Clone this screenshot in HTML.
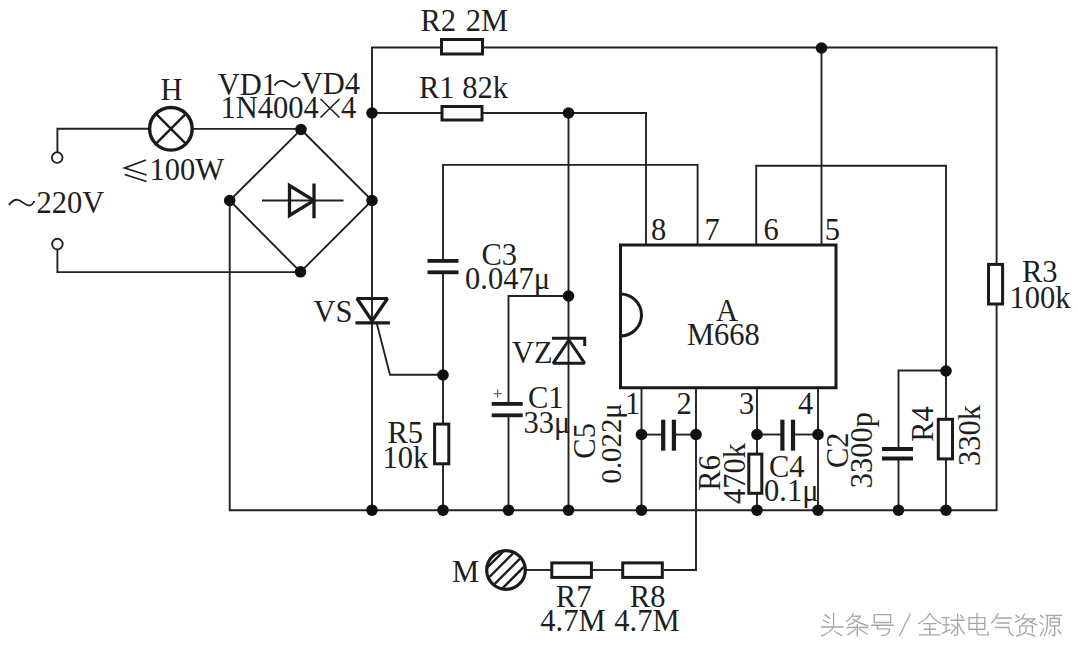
<!DOCTYPE html>
<html><head><meta charset="utf-8">
<style>
html,body{margin:0;padding:0;background:#fff;overflow:hidden;}
svg{display:block;}
text{font-family:"Liberation Serif",serif;font-size:30.5px;fill:#1e1e1e;}
</style></head>
<body>
<svg width="1078" height="646" viewBox="0 0 1078 646">
<rect width="1078" height="646" fill="#fff"/>

<g fill="none" stroke="#222" stroke-width="1.9">
  <path d="M57.4,152 V128.7 H149.5"/>
  <path d="M192,128.9 H301"/>
  <path d="M57.4,249.5 V272.1 H300.5"/>
  <path d="M301,129.5 L372,200.5 L300.5,272 L229.7,200.5 Z"/>
  <path d="M262,200.5 H343.5"/>
  <path d="M229.7,200.5 V510.2 H996.6 V47.5 H483"/>
  <path d="M441,47.5 H372 V510.2"/>
  <path d="M372,113 H441"/>
  <path d="M483,113 H646 V245"/>
  <path d="M443,261 V164.9 H697.6 V245"/>
  <path d="M443,272 V510.2"/>
  <path d="M376.8,323.5 L390,374.7 H443"/>
  <path d="M568.5,113 V510.2"/>
  <path d="M568.5,296 H508.5 V404"/>
  <path d="M508.5,415 V510.2"/>
  <path d="M756.2,245 V165.8 H946 V510.2"/>
  <path d="M821.5,245 V47.5"/>
  <path d="M946,370.5 H898.5 V449"/>
  <path d="M898.5,458 V510.2"/>
  <path d="M641.5,387.5 V510.2"/>
  <path d="M641.5,434.6 H662.5"/>
  <path d="M673,434.6 H696"/>
  <path d="M696,387.5 V570 H664"/>
  <path d="M757,387.5 V510.2"/>
  <path d="M757,434.5 H783"/>
  <path d="M793,434.5 H818"/>
  <path d="M818,387.5 V510.2"/>
  <path d="M525,570 H551"/>
  <path d="M592,570 H622"/>
  <circle cx="57.2" cy="157.6" r="5.3"/>
  <circle cx="57.4" cy="244.1" r="5.3"/>
</g>
<g fill="#fff" stroke="#1a1a1a" stroke-width="3">
  <circle cx="170.9" cy="128.8" r="21.3" stroke-width="3.4"/>
  <rect x="441.5" y="39.5" width="41" height="14.5"/>
  <rect x="442" y="106.5" width="40" height="13.5"/>
  <rect x="434.6" y="424.1" width="14.2" height="39.7"/>
  <rect x="988.5" y="264.4" width="14.1" height="39.6"/>
  <rect x="938.3" y="419.3" width="14.2" height="39.6"/>
  <rect x="748.8" y="454.1" width="13" height="39.2"/>
  <rect x="551.8" y="562.9" width="39.6" height="14.5"/>
  <rect x="622.7" y="562.9" width="39.6" height="14.5"/>
  <path d="M620.5,245 H836 V387.8 H620.5 Z" fill="none"/>
  <path d="M620.5,294 A21,21 0 0 1 620.5,336" fill="none"/>
  <circle cx="506" cy="570" r="19.3" stroke-width="3.2"/>
</g>
<g fill="none" stroke="#1a1a1a" stroke-width="3">
  <path d="M155.8,113.7 L186,143.9 M186,113.7 L155.8,143.9" stroke-width="2.4"/>
  <path d="M289.5,185.5 V215.5 L314,200.5 Z" stroke-width="3.3"/>
  <path d="M314,183.5 V218.3" stroke-width="3.3"/>
  <path d="M357,298.5 H387.5 L372.1,321 Z" stroke-miterlimit="1.5" stroke-width="3.2"/>
  <path d="M355.4,322.9 H389.9" stroke-width="3.2"/>
  <path d="M552,338.3 H584.7 V346"/>
  <path d="M568.9,340 L584.6,363.2 H553.2 Z" stroke-miterlimit="1.5"/>
  
</g>
<clipPath id="mc"><circle cx="506" cy="570" r="18"/></clipPath>
<g clip-path="url(#mc)" stroke="#1a1a1a" stroke-width="2.4" fill="none"><path d="M474.2,580.6 L516.6,538.2"/><path d="M480.0,586.4 L522.4,544.0"/><path d="M486.1,592.5 L528.5,550.1"/><path d="M492.2,598.6 L534.6,556.2"/></g>
<g fill="#1a1a1a"><rect x="427.5" y="259" width="31" height="3.8"/><rect x="427.5" y="270.4" width="31" height="3.8"/><rect x="491.7" y="402" width="31" height="3.8"/><rect x="491.7" y="413.4" width="31" height="3.8"/><rect x="882" y="447" width="31" height="4"/><rect x="882" y="456.5" width="31" height="4"/><rect x="661.1" y="419.7" width="4.2" height="31"/><rect x="671.8" y="419.7" width="4.2" height="31"/><rect x="780.3" y="419.7" width="4.2" height="31"/><rect x="790.9" y="419.7" width="4.2" height="31"/></g>
<g fill="#111"><circle cx="301" cy="129.5" r="5.8"/><circle cx="229.7" cy="200.5" r="5.8"/><circle cx="372" cy="200.5" r="5.8"/><circle cx="300.5" cy="271.8" r="5.8"/><circle cx="372" cy="113" r="5.8"/><circle cx="568.5" cy="113" r="5.8"/><circle cx="821.5" cy="48" r="5.8"/><circle cx="443" cy="375" r="5.8"/><circle cx="568.5" cy="296" r="5.8"/><circle cx="946" cy="371" r="5.8"/><circle cx="641.5" cy="434.5" r="5.8"/><circle cx="696" cy="434.5" r="5.8"/><circle cx="757" cy="434.5" r="5.8"/><circle cx="818" cy="434.5" r="5.8"/><circle cx="372" cy="510.2" r="5.8"/><circle cx="443" cy="510.2" r="5.8"/><circle cx="508.5" cy="510.2" r="5.8"/><circle cx="568.5" cy="510.2" r="5.8"/><circle cx="641.5" cy="510.2" r="5.8"/><circle cx="757" cy="510.2" r="5.8"/><circle cx="818" cy="510.2" r="5.8"/><circle cx="898.5" cy="510.2" r="5.8"/><circle cx="946" cy="510.2" r="5.8"/></g>
<g>
<text x="160.4" y="99.6">H</text>
<text x="149.4" y="179.5">100W</text>
<text x="36.5" y="212.5">220V</text>
<text x="217.8" y="94.6">VD1</text>
<text x="300.7" y="94.2">VD4</text>
<text x="220.5" y="118.3">1N4004</text>
<text x="340.9" y="118.3">4</text>
<text x="420.4" y="30.7">R2</text>
<text x="465.8" y="30.7">2M</text>
<text x="419" y="97.5">R1</text>
<text x="462.2" y="97.5">82k</text>
<text x="313.5" y="322">VS</text>
<text x="481.5" y="265.0">C3</text>
<text x="465" y="289.2">0.047μ</text>
<text x="512" y="362.8">VZ</text>
<text x="528" y="408">C1</text>
<text x="523.5" y="432.7">33μ</text>
<text x="387.5" y="443">R5</text>
<text x="382.5" y="467.8">10k</text>
<text x="651.1" y="239.8">8</text>
<text x="704.5" y="239.8">7</text>
<text x="763.5" y="239.8">6</text>
<text x="824.7" y="239.8">5</text>
<text x="727" y="320.7" text-anchor="middle">A</text>
<text x="687" y="344.8">M668</text>
<text x="625" y="414">1</text>
<text x="676.6" y="414">2</text>
<text x="738.9" y="414">3</text>
<text x="798.1" y="414">4</text>
<text x="769" y="477">C4</text>
<text x="764.1" y="500.8">0.1μ</text>
<text x="1022" y="282.4">R3</text>
<text x="1009.4" y="307.9">100k</text>
<text x="452" y="581.8">M</text>
<text x="555.8" y="606.6">R7</text>
<text x="540.3" y="631.3">4.7M</text>
<text x="629.8" y="606.6">R8</text>
<text x="614.3" y="631.3">4.7M</text>
<text transform="translate(595,458.7) rotate(-90)">C5</text>
<text transform="translate(620.5,483.5) rotate(-90)" style="font-size:28.8px">0.022μ</text>
<text transform="translate(720,490.7) rotate(-90)">R6</text>
<text transform="translate(744.5,503.9) rotate(-90)">470k</text>
<text transform="translate(847.5,468.1) rotate(-90)">C2</text>
<text transform="translate(871.7,488.3) rotate(-90)">3300p</text>
<text transform="translate(933,441.8) rotate(-90)">R4</text>
<text transform="translate(980,466) rotate(-90)">330k</text>
</g>
<g fill="none" stroke="#1e1e1e" stroke-width="1.8">
  <path d="M274.5,85.5 C277,82 280,80.5 283,81 C287,81.5 290,86.5 294,86.5 C296.5,86.5 298.5,84 300,81.5"/>
  <path d="M9,205 C11.5,201.5 14.5,199.5 17.5,199.8 C21.5,200.2 25,205.5 29,205.5 C31.5,205.5 33.2,203.5 34.3,201"/>
  <path d="M146,160 L124.7,168 L146.6,175 M124.7,174.5 L146.5,181.5"/>
  <path d="M320.5,99 L339.5,117.5 M339.5,99 L320.5,117.5" stroke-width="1.6"/>
</g>
<g fill="none" stroke="#8a8a8a" stroke-width="6" stroke-linecap="round" opacity="0.75"><path transform="translate(821.0,613.5) scale(0.225)" d="M17,5 L40,22 M10,30 L33,42 M56,0 V60 M1,60 H98 M56,60 Q40,85 3,100 M62,80 L92,98"/><path transform="translate(846.0,613.5) scale(0.225)" d="M33,0 Q20,25 2,35 M27,12 H65 Q45,40 12,50 M30,25 Q60,45 98,55 M5,62 H95 M50,48 V100 M42,70 L8,95 M60,70 L95,92"/><path transform="translate(871.5,613.5) scale(0.225)" d="M12,5 H85 V40 H12 Z M0,52 H98 M28,52 L25,68 H80 Q82,98 45,98"/><path transform="translate(898.5,613.5) scale(0.225)" d="M52,2 L5,98"/><path transform="translate(918.6,613.5) scale(0.225)" d="M50,0 Q35,25 0,45 M50,0 Q65,25 100,45 M22,45 H78 M50,45 V95 M25,70 H75 M5,95 H95"/><path transform="translate(942.3,613.5) scale(0.225)" d="M0,18 H32 M3,50 H30 M17,18 V78 M0,88 L35,72 M38,30 H98 M68,2 V92 Q66,100 52,96 M82,8 L92,20 M42,48 L58,60 M40,88 L62,62 M72,45 Q80,70 98,90"/><path transform="translate(966.8,613.5) scale(0.225)" d="M10,18 H80 V70 H10 Z M10,44 H80 M45,0 V82 Q46,95 62,95 H95 V82"/><path transform="translate(991.2,613.5) scale(0.225)" d="M30,0 Q20,25 2,42 M22,20 H90 M25,42 H80 M18,62 H78 Q78,88 98,98"/><path transform="translate(1014.9,613.5) scale(0.225)" d="M5,8 L18,18 M2,38 L22,28 M42,2 Q38,14 30,24 H88 Q78,34 68,38 M60,24 Q50,40 30,48 M62,34 Q78,44 98,50 M22,55 V85 M22,55 H78 V85 M50,62 V78 Q45,92 8,100 M55,88 L90,100"/><path transform="translate(1039.4,613.5) scale(0.225)" d="M5,8 L16,18 M2,40 L14,48 M5,98 L20,68 M30,8 H98 M35,8 V60 Q32,85 22,98 M48,22 H88 V55 H48 Z M48,38 H88 M68,12 L62,22 M68,58 V96 Q66,100 58,96 M52,72 L42,90 M82,72 L95,90"/></g>
<path d="M493.6,393.6 H501.6 M497.6,389.6 V397.6" stroke="#666" stroke-width="1.3" fill="none"/>
</svg>
</body></html>
